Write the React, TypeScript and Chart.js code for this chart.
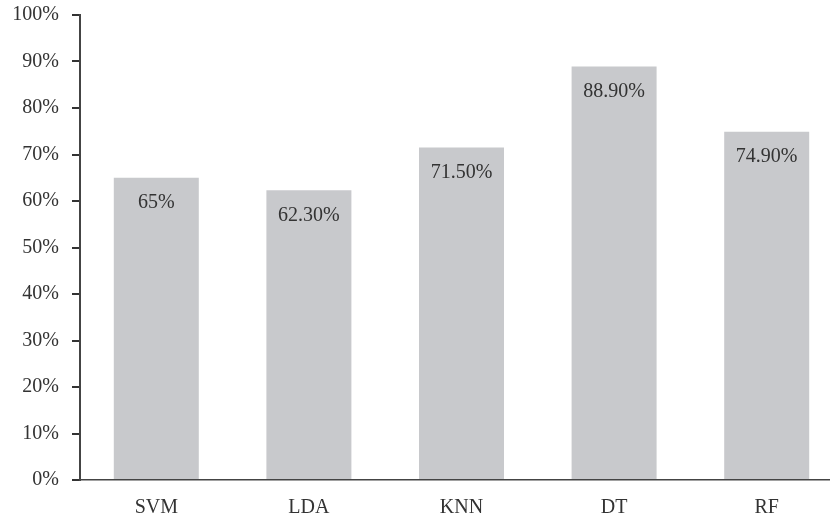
import React, { useEffect, useRef } from "react";
import { Chart, registerables } from "chart.js";

Chart.register(...registerables);

const categories = ["SVM", "LDA", "KNN", "DT", "RF"];
const accuracy = [65, 62.3, 71.5, 88.9, 74.9];
const valueLabels = ["65%", "62.30%", "71.50%", "88.90%", "74.90%"];

const FONT = "'Liberation Serif', 'DejaVu Serif', serif";
const TEXT = "#333333";

const valueLabelPlugin = {
  id: "valueLabels",
  afterDatasetsDraw(chart: any) {
    const ctx = chart.ctx;
    const meta = chart.getDatasetMeta(0);
    ctx.save();
    ctx.font = `20px ${FONT}`;
    ctx.fillStyle = TEXT;
    ctx.textAlign = "center";
    ctx.textBaseline = "middle";
    meta.data.forEach((bar: any, i: number) => {
      ctx.fillText(valueLabels[i], bar.x, bar.y + 25);
    });
    ctx.restore();
  },
};

export default function App() {
  const ref = useRef<HTMLCanvasElement | null>(null);
  useEffect(() => {
    if (!ref.current) return;
    const chart = new Chart(ref.current, {
      type: "bar",
      data: {
        labels: categories,
        datasets: [
          {
            data: accuracy,
            backgroundColor: "#c8c9cc",
            borderWidth: 0,
            categoryPercentage: 1,
            barPercentage: 0.557,
          },
        ],
      },
      options: {
        animation: false,
        responsive: false,
        devicePixelRatio: 1,
        layout: { padding: { top: 15, right: 0, left: 0, bottom: 0 } },
        plugins: { legend: { display: false }, tooltip: { enabled: false } },
        scales: {
          x: {
            grid: { display: false, drawTicks: false },
            border: { display: true, color: "#444", width: 1.5 },
            ticks: { color: TEXT, font: { family: FONT, size: 20 }, padding: 16 },
            afterFit(scale: any) {
              scale.height = 40;
              scale.paddingLeft = 0;
              scale.paddingRight = 0;
            },
          },
          y: {
            min: 0,
            max: 100,
            ticks: {
              stepSize: 10,
              color: TEXT,
              font: { family: FONT, size: 20 },
              padding: 13,
              callback: (v: any) => v + "%",
            },
            grid: {
              drawOnChartArea: false,
              drawTicks: true,
              tickLength: 8,
              color: "#333",
              lineWidth: 2,
            },
            border: { display: true, color: "#444", width: 2 },
            afterFit(scale: any) {
              scale.width = 80;
              scale.paddingTop = 0;
              scale.paddingBottom = 0;
            },
          },
        },
      },
      plugins: [valueLabelPlugin],
    });
    return () => chart.destroy();
  }, []);
  return (
    <div
      style={{
        position: "fixed",
        left: 0,
        top: 0,
        width: 830,
        height: 520,
        overflow: "hidden",
        background: "#fff",
      }}
    >
      <canvas ref={ref} width={843} height={520} style={{ display: "block" }} />
    </div>
  );
}
